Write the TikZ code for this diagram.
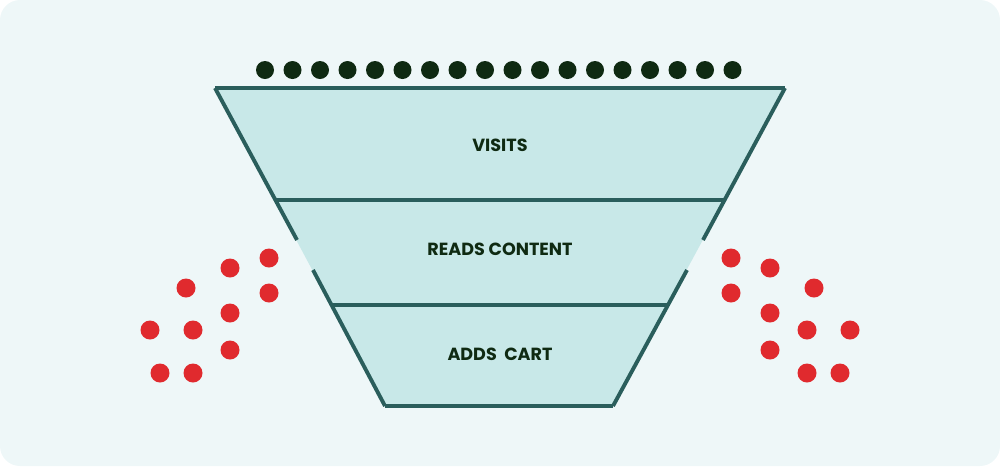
\documentclass[tikz,border=0pt]{standalone}
\usepackage{fontspec}
\setmainfont{Poppins}
\definecolor{bgcol}{HTML}{EEF7F8}
\definecolor{funfill}{HTML}{C8E8E8}
\definecolor{funline}{HTML}{2A5E5C}
\definecolor{dotdark}{HTML}{0F2A12}
\definecolor{dotred}{HTML}{E02A2E}
\tikzset{
  lbl/.style={font=\bfseries\fontsize{5}{6}\selectfont, text=dotdark},
  edge/.style={funline, line width=1.1pt},
}
\begin{document}
\begin{tikzpicture}[x=0.01cm, y=-0.01cm]
\fill[bgcol, rounded corners=0.2cm] (0,0) rectangle (1000,466);
\useasboundingbox (0,0) rectangle (1000,466);

% funnel body
\fill[funfill] (215,88) -- (785,88) -- (613,406) -- (385,406) -- cycle;
\coordinate (tl) at (215,88);
\coordinate (tr) at (785,88);
\coordinate (bl) at (385,406);
\coordinate (br) at (613,406);
\draw[edge] (bl) -- (br);
\draw[edge] (tl) -- (tr);
\draw[edge] (tl) -- (297,240);
\draw[edge] (313,270) -- (bl);
\draw[edge] (tr) -- (703,240);
\draw[edge] (687,270) -- (br);
\draw[edge] (275,200) -- (725,200);
\draw[edge] (331,305) -- (669,305);

\node[lbl] (visits) at (500,145) {VISITS};
\node[lbl] (reads) at (500,249) {READS CONTENT};
\node[lbl] (adds) at (500,354) {ADDS\ \ CART};

% dots on top
\foreach \i in {0,...,17}
  \fill[dotdark] ({265+\i*27.5},70) circle (9);

% falling dots
\foreach \x/\y in {269/258,230/268,186/288,269/293,230/313,150/330,193/330,230/350,160/373,193/373}{
  \fill[dotred] (\x,\y) circle (9.5);
  \fill[dotred] ({1000-\x},\y) circle (9.5);
}
\end{tikzpicture}
\end{document}
